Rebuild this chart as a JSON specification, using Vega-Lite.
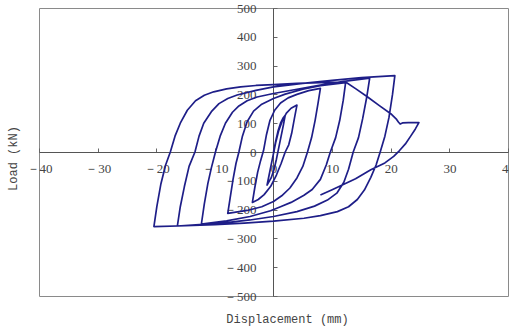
{
  "$schema": "https://vega.github.io/schema/vega-lite/v6.json",
  "width": 469,
  "height": 288,
  "autosize": "none",
  "padding": {"left": 39, "top": 8, "right": 1, "bottom": 30},
  "background": "white",
  "config": {"view": {"stroke": "#8a8a8a", "strokeWidth": 1}},
  "data": {"values": [
    {"i":0,"x":0,"y":0},{"i":1,"x":0.4,"y":40},{"i":2,"x":0.8,"y":75},{"i":3,"x":1.2,"y":100},{"i":4,"x":1.6,"y":117},{"i":5,"x":2,"y":128},
    {"i":6,"x":1.7,"y":95},{"i":7,"x":1.3,"y":55},{"i":8,"x":0.9,"y":15},{"i":9,"x":0.5,"y":-25},{"i":10,"x":0.1,"y":-60},{"i":11,"x":-0.4,"y":-90},{"i":12,"x":-1.1,"y":-115},
    {"i":13,"x":-0.8,"y":-85},{"i":14,"x":-0.4,"y":-45},{"i":15,"x":0,"y":-5},{"i":16,"x":0.4,"y":35},{"i":17,"x":0.9,"y":75},{"i":18,"x":1.5,"y":108},{"i":19,"x":2.2,"y":135},{"i":20,"x":3,"y":152},{"i":21,"x":4,"y":163},
    {"i":22,"x":3.6,"y":120},{"i":23,"x":3.1,"y":65},{"i":24,"x":2.6,"y":25},{"i":25,"x":2.0,"y":0},{"i":26,"x":1.3,"y":-40},{"i":27,"x":0.5,"y":-80},{"i":28,"x":-0.5,"y":-120},{"i":29,"x":-1.6,"y":-148},{"i":30,"x":-2.6,"y":-165},{"i":31,"x":-3.6,"y":-175},
    {"i":32,"x":-3.2,"y":-125},{"i":33,"x":-2.7,"y":-70},{"i":34,"x":-2.2,"y":-30},{"i":35,"x":-1.7,"y":5},{"i":36,"x":-1.2,"y":60},{"i":37,"x":-0.6,"y":110},{"i":38,"x":0.2,"y":145},{"i":39,"x":1.2,"y":170},{"i":40,"x":2.5,"y":188},{"i":41,"x":4,"y":200},{"i":42,"x":6,"y":213},{"i":43,"x":8,"y":221},
    {"i":44,"x":7.6,"y":170},{"i":45,"x":7.1,"y":110},{"i":46,"x":6.5,"y":50},{"i":47,"x":5.8,"y":0},{"i":48,"x":5.0,"y":-50},{"i":49,"x":4,"y":-90},{"i":50,"x":2.8,"y":-125},{"i":51,"x":1.4,"y":-152},{"i":52,"x":0,"y":-172},{"i":53,"x":-2,"y":-190},{"i":54,"x":-4.5,"y":-203},{"i":55,"x":-7.8,"y":-213},
    {"i":56,"x":-7.4,"y":-160},{"i":57,"x":-6.9,"y":-95},{"i":58,"x":-6.4,"y":-40},{"i":59,"x":-5.9,"y":0},{"i":60,"x":-5.3,"y":55},{"i":61,"x":-4.5,"y":105},{"i":62,"x":-3.4,"y":142},{"i":63,"x":-2,"y":166},{"i":64,"x":0,"y":186},{"i":65,"x":2,"y":201},{"i":66,"x":5,"y":218},{"i":67,"x":8,"y":230},{"i":68,"x":12.3,"y":241},
    {"i":69,"x":11.9,"y":180},{"i":70,"x":11.3,"y":110},{"i":71,"x":10.6,"y":50},{"i":72,"x":9.7,"y":0},{"i":73,"x":9,"y":-45},{"i":74,"x":8,"y":-95},{"i":75,"x":6.6,"y":-130},{"i":76,"x":5.2,"y":-150},{"i":77,"x":3,"y":-175},{"i":78,"x":1.2,"y":-190},{"i":79,"x":-0.5,"y":-204},{"i":80,"x":-4,"y":-224},{"i":81,"x":-8,"y":-239},{"i":82,"x":-12.3,"y":-250},
    {"i":83,"x":-11.8,"y":-180},{"i":84,"x":-11.2,"y":-110},{"i":85,"x":-10.6,"y":-55},{"i":86,"x":-9.9,"y":0},{"i":87,"x":-9.1,"y":55},{"i":88,"x":-8.2,"y":100},{"i":89,"x":-7,"y":138},{"i":90,"x":-5.9,"y":160},{"i":91,"x":-4.5,"y":178},{"i":92,"x":-2.8,"y":191},{"i":93,"x":0,"y":203},{"i":94,"x":4,"y":218},{"i":95,"x":8,"y":232},{"i":96,"x":12,"y":245},{"i":97,"x":16.4,"y":256},
    {"i":98,"x":15.9,"y":190},{"i":99,"x":15.2,"y":115},{"i":100,"x":14.5,"y":50},{"i":101,"x":13.6,"y":0},{"i":102,"x":12.8,"y":-60},{"i":103,"x":12,"y":-105},{"i":104,"x":10.8,"y":-143},{"i":105,"x":9.2,"y":-167},{"i":106,"x":7,"y":-188},{"i":107,"x":4,"y":-207},{"i":108,"x":0,"y":-224},{"i":109,"x":-4,"y":-236},{"i":110,"x":-8,"y":-245},{"i":111,"x":-12,"y":-251},{"i":112,"x":-16.4,"y":-257},
    {"i":113,"x":-15.9,"y":-190},{"i":114,"x":-15.2,"y":-120},{"i":115,"x":-14.4,"y":-50},{"i":116,"x":-13.4,"y":0},{"i":117,"x":-12.7,"y":55},{"i":118,"x":-11.9,"y":100},{"i":119,"x":-10.6,"y":140},{"i":120,"x":-9.3,"y":168},{"i":121,"x":-7.8,"y":186},{"i":122,"x":-6.2,"y":198},{"i":123,"x":-3,"y":214},{"i":124,"x":0,"y":226},{"i":125,"x":5,"y":238},{"i":126,"x":10,"y":249},{"i":127,"x":15,"y":258},{"i":128,"x":20.7,"y":265},
    {"i":129,"x":20.3,"y":200},{"i":130,"x":19.7,"y":120},{"i":131,"x":19,"y":55},{"i":132,"x":18.2,"y":0},{"i":133,"x":17.5,"y":-45},{"i":134,"x":16.6,"y":-88},{"i":135,"x":15.5,"y":-132},{"i":136,"x":14.3,"y":-165},{"i":137,"x":12.8,"y":-190},{"i":138,"x":10.9,"y":-207},{"i":139,"x":8,"y":-221},{"i":140,"x":5.2,"y":-230},{"i":141,"x":0,"y":-240},{"i":142,"x":-5,"y":-247},{"i":143,"x":-10,"y":-252},{"i":144,"x":-15,"y":-256},{"i":145,"x":-20.4,"y":-259},
    {"i":146,"x":-19.9,"y":-190},{"i":147,"x":-19.2,"y":-110},{"i":148,"x":-18.4,"y":-45},{"i":149,"x":-17.6,"y":0},{"i":150,"x":-16.8,"y":55},{"i":151,"x":-15.9,"y":100},{"i":152,"x":-14.7,"y":145},{"i":153,"x":-13.3,"y":178},{"i":154,"x":-11.8,"y":197},{"i":155,"x":-10.2,"y":209},{"i":156,"x":-8,"y":219},{"i":157,"x":-5.6,"y":226},{"i":158,"x":-3,"y":231},{"i":159,"x":0,"y":234},{"i":160,"x":4,"y":238},{"i":161,"x":8,"y":241},{"i":162,"x":12.3,"y":243},
    {"i":163,"x":14,"y":220},{"i":164,"x":16,"y":192},{"i":165,"x":18,"y":162},{"i":166,"x":20,"y":133},{"i":167,"x":21,"y":113},{"i":168,"x":21.3,"y":104},{"i":169,"x":21.6,"y":97},{"i":170,"x":22,"y":101},{"i":171,"x":23,"y":102},{"i":172,"x":24.8,"y":102},
    {"i":173,"x":24.2,"y":80},{"i":174,"x":23.4,"y":55},{"i":175,"x":22.5,"y":28},{"i":176,"x":21.5,"y":5},{"i":177,"x":20.5,"y":-15},{"i":178,"x":19,"y":-38},{"i":179,"x":16.6,"y":-62},{"i":180,"x":14,"y":-93},{"i":181,"x":12,"y":-112},{"i":182,"x":10,"y":-131},{"i":183,"x":8,"y":-149}
  ]},
  "mark": {"type": "line", "color": "#1e1e88", "strokeWidth": 1.7, "strokeJoin": "round"},
  "encoding": {
    "x": {
      "field": "x", "type": "quantitative",
      "scale": {"domain": [-40, 40], "nice": false, "zero": false},
      "axis": {
        "title": "Displacement (mm)", "offset": -144,
        "values": [-40, -30, -20, -10, 0, 10, 20, 30, 40],
        "tickSize": -4, "tickColor": "#666", "domainColor": "#555", "grid": false,
        "labelExpr": "datum.value < 0 ? '－' + abs(datum.value) : datum.label",
        "labelFont": "Liberation Serif", "labelFontSize": 13, "labelColor": "#444",
        "labelPadding": 14, "labelFlush": false, "labelOverlap": false, "labelBound": false,
        "titleFont": "Liberation Mono", "titleFontSize": 12, "titleFontWeight": "normal", "titleColor": "#444",
        "titleX": 248, "titleY": 161, "titleBaseline": "top"
      }
    },
    "y": {
      "field": "y", "type": "quantitative",
      "scale": {"domain": [-500, 500], "nice": false, "zero": false},
      "axis": {
        "title": "Load (kN)", "offset": -234,
        "values": [-500, -400, -300, -200, -100, 0, 100, 200, 300, 400, 500],
        "tickSize": -4, "tickColor": "#666", "domainColor": "#555", "grid": false,
        "labelExpr": "datum.value < 0 ? '－' + abs(datum.value) : datum.label",
        "labelFont": "Liberation Serif", "labelFontSize": 13, "labelColor": "#444",
        "labelPadding": 21, "labelFlush": false, "labelOverlap": false, "labelBound": false,
        "titleFont": "Liberation Mono", "titleFontSize": 12, "titleFontWeight": "normal", "titleColor": "#444",
        "titleX": -261, "titleY": 150, "titleBaseline": "middle"
      }
    },
    "order": {"field": "i"}
  }
}
